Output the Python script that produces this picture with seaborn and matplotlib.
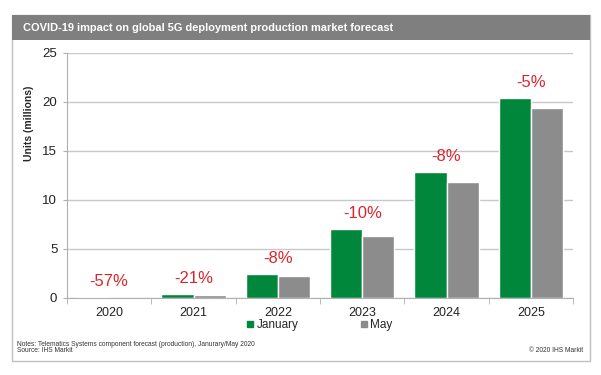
import pandas as pd
import matplotlib.pyplot as plt
import seaborn as sns
from matplotlib.patches import Rectangle
from matplotlib.lines import Line2D

years = ['2020', '2021', '2022', '2023', '2024', '2025']
january = [0.05, 0.35, 2.37, 7.0, 12.8, 20.35]
may = [0.02, 0.28, 2.18, 6.3, 11.8, 19.35]
changes = ['-57%', '-21%', '-8%', '-10%', '-8%', '-5%']
series = ['January', 'May']

df = pd.DataFrame({
    'year': years * 2,
    'units': january + may,
    'forecast': ['January'] * 6 + ['May'] * 6,
})

green = '#00873c'
grey = '#8c8c8c'
red = '#d9262e'

sns.set_style('white')
plt.rcParams['font.family'] = ['Liberation Sans', 'DejaVu Sans']

fig = plt.figure(figsize=(6.01, 3.75), dpi=100)
ax = fig.add_axes([0.1115, 0.2061, 0.842, 0.6534])

sns.barplot(data=df, x='year', y='units', hue='forecast', order=years,
            hue_order=series, palette=[green, grey], width=0.76,
            saturation=1, ax=ax, legend=False)

ax.set_ylim(0, 25)
ax.set_xlim(-0.5, 5.5)
ax.set_yticks(range(0, 26, 5))
ax.yaxis.grid(True, color='#c8c8c8', linewidth=1)
ax.set_axisbelow(True)
for s in ['top', 'right']:
    ax.spines[s].set_visible(False)
for s in ['left', 'bottom']:
    ax.spines[s].set_color('#b0b0b0')
ax.tick_params(axis='y', length=3, color='#b0b0b0', labelsize=9.5, pad=4,
               left=True, labelcolor='#222222')
ax.tick_params(axis='x', length=0, labelsize=9, pad=7, labelcolor='#222222')
ax.set_xticks([i - 0.5 for i in range(7)], minor=True)
ax.tick_params(axis='x', which='minor', length=4, color='#b0b0b0', bottom=True)
ax.set_xlabel('')
ax.set_ylabel('Units (millions)', fontsize=7.5, fontweight='bold')
ax.yaxis.set_label_coords(-0.065, 0.713)

# percentage change labels above each year group
for i, (v, txt) in enumerate(zip(january, changes)):
    ax.annotate(txt, (i, v), xytext=(0, 6), textcoords='offset points',
                ha='center', va='bottom', color=red, fontsize=12)

# legend below the axis
handles = [Line2D([], [], marker='s', linestyle='', color=c, markersize=5)
           for c in [green, grey]]
fig.legend(handles, series, loc='center', bbox_to_anchor=(0.531, 0.134),
           ncol=2, frameon=False, fontsize=8.5, handletextpad=0.1,
           columnspacing=5.2, handlelength=0.8)

# outer frame and title bar
fig.patches.append(Rectangle((12 / 601, 1 - 361 / 375), 578 / 601, 346 / 375,
                             transform=fig.transFigure, fill=False,
                             edgecolor='#c0c0c0', linewidth=1))
fig.patches.append(Rectangle((12 / 601, 1 - 40 / 375), 578 / 601, 25 / 375,
                             transform=fig.transFigure, facecolor='#7f7f7f',
                             edgecolor='none'))
fig.text(23 / 601, 1 - 28 / 375,
         'COVID-19 impact on global 5G deployment production market forecast',
         color='white', fontsize=7.9, fontweight='bold', va='center')

fig.text(17 / 601, 1 - 344 / 375,
         'Notes: Telematics Systems component forecast (production), Janurary/May 2020',
         fontsize=4.8, color='#333333', va='center')
fig.text(17 / 601, 1 - 350 / 375, 'Source: IHS Markit',
         fontsize=4.8, color='#333333', va='center')
fig.text(583 / 601, 1 - 350 / 375, '© 2020 IHS Markit',
         fontsize=4.8, color='#333333', va='center', ha='right')

fig.savefig('out.png', dpi=100)
